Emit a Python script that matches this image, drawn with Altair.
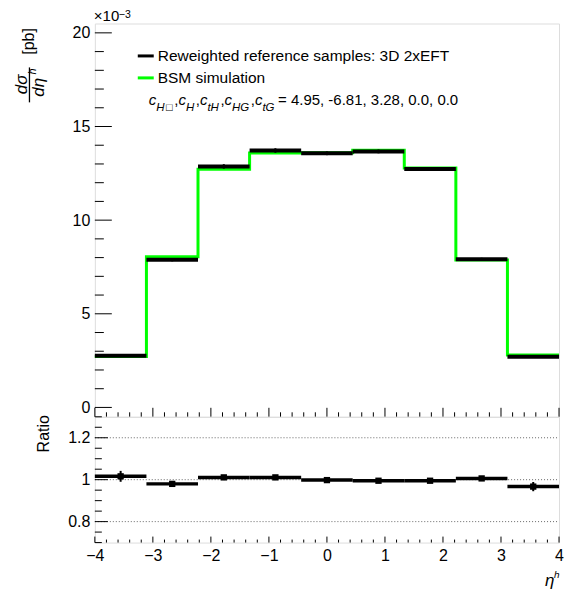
import altair as alt
import pandas as pd

FONT = "Liberation Sans"

# ---------------- data (values in units of 1e-3 pb) ----------------
edges = [-4.0, -3.111, -2.222, -1.333, -0.444, 0.444, 1.333, 2.222, 3.111, 4.0]
ref = [2.76, 7.88, 12.87, 13.72, 13.57, 13.67, 12.73, 7.91, 2.71]
ref_err = [0.07, 0.08, 0.12, 0.12, 0.10, 0.10, 0.10, 0.08, 0.07]
bsm = [2.72, 8.04, 12.72, 13.58, 13.60, 13.73, 12.78, 7.87, 2.80]
ratio = [1.016, 0.980, 1.011, 1.011, 0.998, 0.995, 0.995, 1.006, 0.967]
ratio_err = [0.026, 0.007, 0.006, 0.006, 0.006, 0.006, 0.006, 0.007, 0.022]

x_major = [-4, -3, -2, -1, 0, 1, 2, 3, 4]
x_minor = [-3.8, -3.6, -3.4, -3.2, -2.8, -2.6, -2.4, -2.2, -1.8, -1.6, -1.4, -1.2,
           -0.8, -0.6, -0.4, -0.2, 0.2, 0.4, 0.6, 0.8, 1.2, 1.4, 1.6, 1.8,
           2.2, 2.4, 2.6, 2.8, 3.2, 3.4, 3.6, 3.8]
y_major_top = [0, 5, 10, 15, 20]
y_minor_top = [1, 2, 3, 4, 6, 7, 8, 9, 11, 12, 13, 14, 16, 17, 18, 19]
y_major_ratio = [0.8, 1.0, 1.2]
y_minor_ratio = [0.7, 0.75, 0.85, 0.9, 0.95, 1.05, 1.1, 1.15, 1.25, 1.3]

legend_labels = ["Reweighted reference samples: 3D 2xEFT", "BSM simulation"]
legend_colors = ["black", "#00ff00"]

W, H1, H2 = 465, 394, 126

lo = edges[:-1]
hi = edges[1:]
mid = [(a + b) / 2 for a, b in zip(lo, hi)]

bins = pd.DataFrame({
    "lo": lo, "hi": hi, "mid": mid,
    "ref": ref,
    "ref_lo": [v - e for v, e in zip(ref, ref_err)],
    "ref_hi": [v + e for v, e in zip(ref, ref_err)],
    "ratio": ratio,
    "r_lo": [v - e for v, e in zip(ratio, ratio_err)],
    "r_hi": [v + e for v, e in zip(ratio, ratio_err)],
})
step = pd.DataFrame({"x": edges, "y": bsm + [bsm[-1]]})
one = pd.DataFrame({"a": [0]})

xs = alt.Scale(domain=[-4, 4], nice=False, zero=False)
ys1 = alt.Scale(domain=[-0.5, 20.5], nice=False, zero=False)
ys2 = alt.Scale(domain=[0.7, 1.3], nice=False, zero=False)

ax_y1 = alt.Axis(values=y_major_top, title=None, ticks=False, domain=False, grid=False,
                 labelFontSize=16, labelFont=FONT, labelColor="black", labelPadding=5,
                 format="d")
ax_y2 = alt.Axis(values=y_major_ratio, title=None, ticks=False, domain=False, grid=False,
                 labelFontSize=16, labelFont=FONT, labelColor="black", labelPadding=5,
                 format="~g")
ax_x2 = alt.Axis(values=x_major, title=None, ticks=False, domain=False, grid=False,
                 labelFontSize=16, labelFont=FONT, labelColor="black", labelPadding=5,
                 format="~g", labelFlush=False)


def X1(f):
    return alt.X(f, type="quantitative", scale=xs, axis=None)


def Y1(f):
    return alt.Y(f, type="quantitative", scale=ys1, axis=ax_y1)


def X2(f):
    return alt.X(f, type="quantitative", scale=xs, axis=ax_x2)


def Y2(f):
    return alt.Y(f, type="quantitative", scale=ys2, axis=ax_y2)


def txt(text, x, y, size=16, style="normal", angle=0, align="left", baseline="alphabetic"):
    return alt.Chart(one).mark_text(
        font=FONT, fontSize=size, fontStyle=style, angle=angle, align=align,
        baseline=baseline, color="black"
    ).encode(x=alt.value(x), y=alt.value(y), text=alt.value(text))


def seg(x, x2, y, y2, color="black", width=1.0, opacity=1.0):
    return alt.Chart(one).mark_rule(color=color, strokeWidth=width, opacity=opacity).encode(
        x=alt.value(x), x2=alt.value(x2), y=alt.value(y), y2=alt.value(y2))


# ---------------- upper panel ----------------
green = alt.Chart(step).mark_line(interpolate="step-after", color="#00ff00",
                                   strokeWidth=3, strokeCap="butt").encode(
    x=X1("x"), y=Y1("y"))
black = alt.Chart(bins).mark_rule(color="black", strokeWidth=4).encode(
    x=X1("lo"), x2="hi", y=Y1("ref"))
errs = alt.Chart(bins).mark_rule(color="black", strokeWidth=2).encode(
    x=X1("mid"), y=Y1("ref_lo"), y2="ref_hi")

ytk_maj1 = alt.Chart(pd.DataFrame({"v": y_major_top})).mark_rule(color="black").encode(
    y=Y1("v"), x=alt.value(0), x2=alt.value(17))
ytk_min1 = alt.Chart(pd.DataFrame({"v": y_minor_top})).mark_rule(color="black").encode(
    y=Y1("v"), x=alt.value(0), x2=alt.value(9))
xtk_maj1 = alt.Chart(pd.DataFrame({"v": x_major})).mark_rule(color="black").encode(
    x=X1("v"), y=alt.value(H1), y2=alt.value(H1 - 9))
xtk_min1 = alt.Chart(pd.DataFrame({"v": x_minor})).mark_rule(color="black").encode(
    x=X1("v"), y=alt.value(H1), y2=alt.value(H1 - 4.5))

# legend
leg = [
    seg(43, 59, 32.5, 32.5, color=legend_colors[0], width=3),
    txt(legend_labels[0], 63, 38, size=15.5),
    seg(43, 59, 54.5, 54.5, color=legend_colors[1], width=3),
    txt(legend_labels[1], 63, 59.5, size=15.5),
]

# parameter line with subscripts
MAIN, SUB, BOX = 15, 11.5, 11
cw = {"c": 0.5, "H": 0.722, "t": 0.278, "G": 0.778, ",": 0.278, "□": 0.62}
pieces = [("c", "m"), ("H", "s"), ("□", "b"), (",", "m"), ("c", "m"), ("H", "s"), (",", "m"),
          ("c", "m"), ("tH", "s"), (",", "m"), ("c", "m"), ("HG", "s"), (",", "m"),
          ("c", "m"), ("tG", "s")]
param_values = " = 4.95, -6.81, 3.28, 0.0, 0.0"
px = 54.0
base_m, base_s = 82.0, 88.0
par = []
for t, k in pieces:
    size = MAIN if k == "m" else (SUB if k == "s" else BOX)
    yb = base_m if k == "m" else base_s
    style = "italic" if t != "," else "normal"
    par.append(txt(t, px, yb, size=size, style=style))
    px += sum(cw.get(ch, 0.55) for ch in t) * size + (1.5 if k != "m" else 0)
par.append(txt(param_values, px + 2, base_m, size=MAIN))

# y title (rotated fraction) and exponent
ytitle = [
    txt("[pb]", -66, 18, size=16, angle=270, align="center", baseline="middle"),
    txt("dσ", -73, 61, size=17, style="italic", angle=270, align="center", baseline="middle"),
    seg(-65.5, -65.5, 44, 79, width=1.3),
    txt("dη", -56, 64, size=17, style="italic", angle=270, align="center", baseline="middle"),
    txt("h", -62, 48, size=11, style="italic", angle=270, align="center", baseline="middle"),
    txt("×10", -1, -2, size=15),
    txt("−3", 24, -6, size=10.5),
]
anchor1 = seg(-86, -85.99, -14.5, -14.5, width=0.01, opacity=0)

upper = alt.layer(
    green, black, errs, ytk_maj1, ytk_min1, xtk_maj1, xtk_min1,
    *leg, *par, *ytitle, anchor1
).properties(width=W, height=H1)

# ---------------- ratio panel ----------------
grid = alt.Chart(pd.DataFrame({"v": y_major_ratio})).mark_rule(
    color="#666666", strokeWidth=1, strokeDash=[1, 2]).encode(
    y=Y2("v"), x=alt.value(0), x2=alt.value(W))
rseg = alt.Chart(bins).mark_rule(color="black", strokeWidth=3.5).encode(
    x=X2("lo"), x2="hi", y=Y2("ratio"))
rerr = alt.Chart(bins).mark_rule(color="black", strokeWidth=2).encode(
    x=X2("mid"), y=Y2("r_lo"), y2="r_hi")
rpt = alt.Chart(bins).mark_point(shape="square", filled=True, size=40, color="black",
                                 opacity=1).encode(x=X2("mid"), y=Y2("ratio"))

ytk_maj2 = alt.Chart(pd.DataFrame({"v": y_major_ratio})).mark_rule(color="black").encode(
    y=Y2("v"), x=alt.value(0), x2=alt.value(13))
ytk_min2 = alt.Chart(pd.DataFrame({"v": y_minor_ratio})).mark_rule(color="black").encode(
    y=Y2("v"), x=alt.value(0), x2=alt.value(7))
xtk_maj2 = alt.Chart(pd.DataFrame({"v": x_major})).mark_rule(color="black").encode(
    x=X2("v"), y=alt.value(H2), y2=alt.value(H2 - 6))
xtk_min2 = alt.Chart(pd.DataFrame({"v": x_minor})).mark_rule(color="black").encode(
    x=X2("v"), y=alt.value(H2), y2=alt.value(H2 - 3))

rtitle = [
    txt("Ratio", -51, 17, size=16, angle=270, align="center", baseline="middle"),
    txt("η", 451, 170, size=17, style="italic"),
    txt("h", 460, 161, size=10, style="italic"),
]
anchor2 = seg(-86, -85.99, 10, 10, width=0.01, opacity=0)

lower = alt.layer(
    grid, rseg, rerr, rpt, ytk_maj2, ytk_min2, xtk_maj2, xtk_min2, *rtitle, anchor2
).properties(width=W, height=H2)

chart = alt.vconcat(upper, lower, spacing=0, bounds="flush").properties(
    padding={"left": 0, "top": 0, "right": 5, "bottom": 5}
).configure_view(stroke="black", strokeWidth=1).configure(background="white")

chart.save("out.html", embed_options={"renderer": "svg", "actions": False})
